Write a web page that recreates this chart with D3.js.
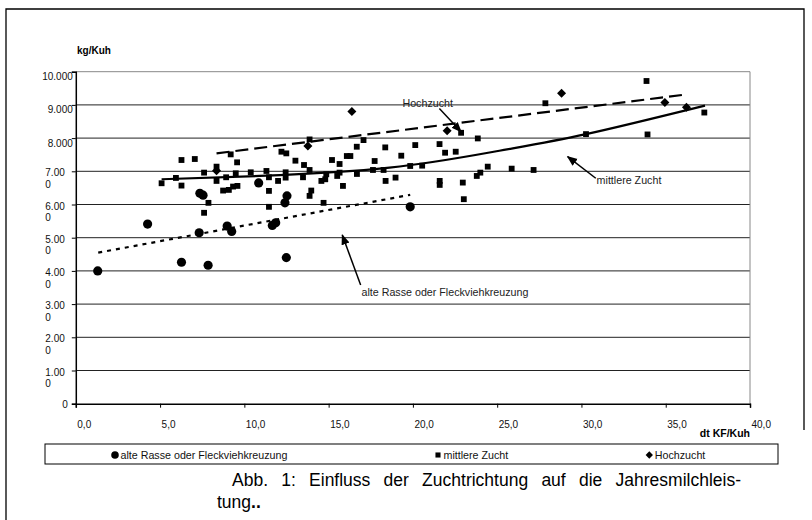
<!DOCTYPE html>
<html>
<head>
<meta charset="utf-8">
<script src="https://cdn.jsdelivr.net/npm/d3@7"></script>
<style>
  body { margin: 0; background: #fff; }
  svg { display: block; font-family: "Liberation Sans", Arial, sans-serif; }
</style>
</head>
<body>
<div id="chart"></div>
<script>
// x = dt KF/Kuh, y = kg/Kuh
var xTicks = [0, 5, 10, 15, 20, 25, 30, 35, 40];
var xTickLabels = ["0,0", "5,0", "10,0", "15,0", "20,0", "25,0", "30,0", "35,0", "40,0"];
var yTicks = [0, 1000, 2000, 3000, 4000, 5000, 6000, 7000, 8000, 9000, 10000];
var yTickLabels = ["0", "1.00\n0", "2.00\n0", "3.00\n0", "4.00\n0", "5.00\n0", "6.00\n0", "7.00\n0", "8.000", "9.000", "10.000"];

var seriesNames = ["alte Rasse oder Fleckviehkreuzung", "mittlere Zucht", "Hochzucht"];

var alteRasse = [[1.3,4000],[4.26,5410],[6.27,4260],[7.36,6340],[7.55,6280],[7.32,5150],[7.85,4170],
  [8.98,5350],[9.25,5190],[10.85,6650],[11.66,5370],[11.86,5450],[12.41,6050],[12.53,6260],[12.49,4400],[19.84,5930]];

var mittlereZucht = [[5.09,6640],[5.94,6800],[6.27,6570],[6.27,7340],[7.06,7370],[7.61,6960],[7.61,5750],[7.87,6050],
  [8.35,7140],[8.35,6710],[8.74,6420],[9.08,6440],[8.92,6820],[9.19,7510],[9.57,7270],[9.49,6940],[9.33,6540],[9.59,6560],
  [10.38,6970],[11.31,7010],[11.46,6820],[11.46,6410],[11.46,5930],[12.0,6710],[13.87,7960],[17.07,7940],[16.67,7740],
  [18.36,7720],[20.14,7790],[21.58,7820],[21.91,7560],[22.54,7590],[22.86,8160],[23.85,7990],[12.2,7590],[12.49,7540],
  [13.03,7320],[13.54,7190],[13.87,7040],[15.2,7340],[15.65,7220],[16.08,7460],[16.29,7460],[17.73,7310],[19.31,7470],
  [19.84,7160],[20.55,7170],[12.45,6970],[12.45,6810],[13.48,6820],[14.57,6710],[14.8,6760],[14.86,6910],[15.51,6860],
  [15.65,6960],[16.68,6920],[17.63,7040],[18.26,7040],[18.38,6710],[18.97,6810],[15.85,6560],[13.97,6420],[13.87,6260],
  [14.7,6050],[21.59,6710],[21.59,6590],[22.96,6660],[23.02,6160],[23.79,6860],[24.0,6960],[24.44,7140],[25.86,7080],
  [27.16,7040],[27.86,9050],[33.86,9720],[37.29,8770],[30.27,8120],[33.92,8110]];

var hochzucht = [[8.35,7020],[13.77,7760],[16.38,8800],[22.03,8220],[28.82,9350],[34.95,9070],[36.23,8930]];

// trend lines
var trendAlte = [[1.33,4550],[19.84,6290]];
var trendMittlere = [[5.09,6760],[10.91,6860],[18.61,7110],[25.13,7620],[30.27,8120],[37.33,8980]];
var trendHoch = [[8.35,7540],[36.0,9300]];

var W = 812, H = 520;
var svg = d3.select("#chart").append("svg").attr("width", W).attr("height", H);

var x = d3.scaleLinear().domain([0, 40]).range([75.8, 750]);
var y = d3.scaleLinear().domain([0, 10000]).range([403.7, 71.7]);

// outer frame
svg.append("path").attr("d", "M6,520 V9 H804 V430").attr("fill", "none").attr("stroke", "#000").attr("stroke-width", 1.3);

// gridlines
svg.append("g").selectAll("line").data(yTicks.filter(function(d){ return d > 0; }))
  .enter().append("line")
  .attr("x1", x(0)).attr("x2", x(40))
  .attr("y1", function(d){ return y(d); }).attr("y2", function(d){ return y(d); })
  .attr("stroke", function(d){ return d == 10000 ? "#888" : "#222"; })
  .attr("stroke-width", 1);
svg.append("line").attr("x1", x(40)).attr("x2", x(40)).attr("y1", y(10000)).attr("y2", y(0))
  .attr("stroke", "#888");

// x axis
var xAxis = svg.append("g").attr("transform", "translate(0," + y(0) + ")")
  .call(d3.axisBottom(x).tickValues(xTicks).tickSize(4).tickPadding(13)
    .tickFormat(function(d, i){ return xTickLabels[i]; }));
xAxis.select(".domain").attr("stroke", "#000").attr("stroke-width", 1.5);
xAxis.selectAll("text").attr("text-anchor", "start").attr("x", 1)
  .attr("font-size", 10).attr("font-family", "Liberation Sans, Arial").attr("fill", "#111");

// y axis
var yAxis = svg.append("g").attr("transform", "translate(" + x(0) + ",0)")
  .call(d3.axisLeft(y).tickValues(yTicks).tickSize(4)
    .tickFormat(function(d, i){ return yTickLabels[i]; }));
yAxis.select(".domain").attr("stroke", "#000").attr("stroke-width", 1.5);
yAxis.selectAll("text").each(function(d, i){
  var t = d3.select(this);
  var parts = yTickLabels[i].split("\n");
  t.text(null).attr("dy", null).attr("font-size", 10)
    .attr("font-family", "Liberation Sans, Arial").attr("fill", "#111");
  if (parts.length > 1) {
    t.attr("text-anchor", "start").attr("x", -30.5).attr("y", 0);
    t.append("tspan").attr("x", -30.5).attr("y", 4.6).text(parts[0]);
    t.append("tspan").attr("x", -30.5).attr("y", 16.3).text(parts[1]);
  } else if (d == 0) {
    t.attr("text-anchor", "end").attr("x", -8).attr("y", 3.6).text(parts[0]);
  } else {
    t.attr("text-anchor", "end").attr("x", -3).attr("y", 8).text(parts[0]);
  }
});

// axis titles
svg.append("text").attr("x", 77).attr("y", 54).attr("font-size", 10).attr("font-weight", "bold").text("kg/Kuh");
svg.append("text").attr("x", 750).attr("y", 437).attr("text-anchor", "end")
  .attr("font-size", 10.5).attr("font-weight", "bold").text("dt KF/Kuh");

// trend lines
var line = d3.line().x(function(d){ return x(d[0]); }).y(function(d){ return y(d[1]); });
var curve = d3.line().x(function(d){ return x(d[0]); }).y(function(d){ return y(d[1]); }).curve(d3.curveNatural);
svg.append("path").datum(trendAlte).attr("d", line).attr("fill", "none")
  .attr("stroke", "#000").attr("stroke-width", 2.2).attr("stroke-dasharray", "4,5");
svg.append("path").datum(trendMittlere).attr("d", curve).attr("fill", "none")
  .attr("stroke", "#000").attr("stroke-width", 2.2);
svg.append("path").datum(trendHoch).attr("d", line)
  .attr("fill", "none").attr("stroke", "#000").attr("stroke-width", 2.2).attr("stroke-dasharray", "13,6");

// markers
var circleSym = d3.symbol().type(d3.symbolCircle).size(66);
var squareSym = d3.symbol().type(d3.symbolSquare).size(34);
var diamondSym = d3.symbol().type(d3.symbolDiamond2).size(52);
function drawPoints(data, path) {
  svg.append("g").selectAll("path").data(data).enter().append("path")
    .attr("transform", function(d){ return "translate(" + x(d[0]) + "," + y(d[1]) + ")"; })
    .attr("d", path).attr("fill", "#000");
}
drawPoints(mittlereZucht, squareSym());
drawPoints(hochzucht, diamondSym());
drawPoints(alteRasse, circleSym());

// annotations with arrows
svg.append("defs").append("marker").attr("id", "ah").attr("viewBox", "0 0 10 10")
  .attr("refX", 9).attr("refY", 5).attr("markerWidth", 7).attr("markerHeight", 7)
  .attr("orient", "auto").append("path").attr("d", "M0,1 L10,5 L0,9 z").attr("fill", "#000");

function note(label, tx, ty, from, to) {
  svg.append("line").attr("x1", x(from[0])).attr("y1", y(from[1]))
    .attr("x2", x(to[0])).attr("y2", y(to[1]))
    .attr("stroke", "#000").attr("stroke-width", 1.5).attr("marker-end", "url(#ah)");
  svg.append("text").attr("x", x(tx)).attr("y", y(ty)).attr("font-size", 10.7).attr("fill", "#222").text(label);
}
note("Hochzucht", 19.38, 8950, [21.57, 8890], [22.86, 8190]);
note("mittlere Zucht", 30.9, 6620, [30.85, 6790], [29.18, 7440]);
note("alte Rasse oder Fleckviehkreuzung", 16.95, 3245, [16.9, 3575], [15.81, 5080]);

// legend
var lg = svg.append("g");
lg.append("rect").attr("x", 45).attr("y", 444).attr("width", 733).attr("height", 20)
  .attr("fill", "#fff").attr("stroke", "#000").attr("stroke-width", 1);
var legendPos = [115, 438, 649.3];
var legendSym = [d3.symbol().type(d3.symbolCircle).size(45)(), d3.symbol().type(d3.symbolSquare).size(26)(),
  d3.symbol().type(d3.symbolDiamond2).size(34)()];
seriesNames.forEach(function(name, i){
  lg.append("path").attr("transform", "translate(" + legendPos[i] + ",455)").attr("d", legendSym[i]).attr("fill", "#000");
  lg.append("text").attr("x", legendPos[i] + 5.5).attr("y", 458.5).attr("font-size", 10.7).attr("fill", "#111").text(name);
});

// caption, justified by widening the word gaps
var cap1Text = "Abb. 1: Einfluss der Zuchtrichtung auf die Jahresmilchleis-";
var cap1 = svg.append("text").attr("x", 232).attr("y", 486).attr("font-size", 17.5).text(cap1Text);
var gaps = cap1Text.split(" ").length - 1;
var ws = (509 - cap1.node().getComputedTextLength()) / gaps;
cap1.attr("word-spacing", Math.max(0, ws));
var cap2 = svg.append("text").attr("x", 217).attr("y", 508).attr("font-size", 17.5);
cap2.append("tspan").text("tung");
cap2.append("tspan").attr("font-weight", "bold").text("..");
</script>
</body>
</html>
